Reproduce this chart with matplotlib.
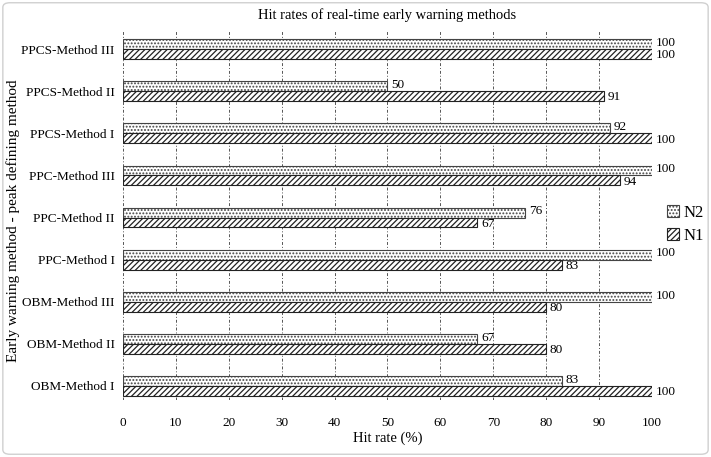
import matplotlib.pyplot as plt
import numpy as np
from matplotlib.patches import FancyBboxPatch

plt.rcParams['font.family'] = ['Liberation Serif', 'DejaVu Serif']
plt.rcParams['hatch.linewidth'] = 0.9

methods = ['OBM-Method I', 'OBM-Method II', 'OBM-Method III',
           'PPC-Method I', 'PPC-Method II', 'PPC-Method III',
           'PPCS-Method I', 'PPCS-Method II', 'PPCS-Method III']
n1 = [100, 80, 80, 83, 67, 94, 100, 91, 100]
n2 = [83, 67, 100, 100, 76, 100, 92, 50, 100]

fig = plt.figure(figsize=(7.11, 4.57), dpi=100)
ax = fig.add_axes([0.173, 0.125, 0.744, 0.809])

y = np.arange(len(methods))
h = 0.235
b2 = ax.barh(y + h / 2, n2, height=h, color='white', edgecolor='#444444',
             hatch='.....', linewidth=0.8, label='N2', zorder=3)
b1 = ax.barh(y - h / 2, n1, height=h, color='white', edgecolor='#222222',
             hatch='//////', linewidth=0.8, label='N1', zorder=3)

# value labels just past the bar ends
for yi, v in zip(y, n2):
    ax.text(v + 0.7, yi + h / 2 + 0.03, f'{v}', va='center', ha='left', fontsize=9.5)
for yi, v in zip(y, n1):
    ax.text(v + 0.7, yi - h / 2 - 0.03, f'{v}', va='center', ha='left', fontsize=9.5)

ax.set_xlim(0, 100)
ax.set_ylim(-0.33, 8.45)
ax.set_xticks(range(0, 101, 10))
ax.set_yticks(y)
ax.set_yticklabels(methods, fontsize=9.5)
ax.tick_params(axis='x', labelsize=9.5, length=0, pad=12)
ax.tick_params(axis='y', length=0, pad=6)
ax.grid(axis='x', linestyle=(0, (3, 2, 1, 2)), color='#555555', linewidth=0.7, zorder=0)
for s in ax.spines.values():
    s.set_visible(False)

ax.set_xlabel('Hit rate (%)', fontsize=10.5, labelpad=2)
ax.set_ylabel('Early warning method - peak defining method', fontsize=11)
ax.yaxis.set_label_coords(-0.195, 0.484)
ax.set_title('Hit rates of real-time early warning methods', fontsize=10.5, pad=8)

handles = [b2, b1]
ax.legend(handles, ['N2', 'N1'], loc='center left', bbox_to_anchor=(1.0, 0.475),
          frameon=False, fontsize=12, handlelength=0.7, handleheight=0.7,
          handletextpad=0.3, labelspacing=0.4)

# light rounded frame around the whole figure
frame = FancyBboxPatch((0.004, 0.006), 0.992, 0.988, boxstyle='round,pad=0,rounding_size=0.01',
                       transform=fig.transFigure, facecolor='none', edgecolor='#d0d0d0',
                       linewidth=1.0)
fig.patches.append(frame)

fig.savefig('out.png', dpi=100)
